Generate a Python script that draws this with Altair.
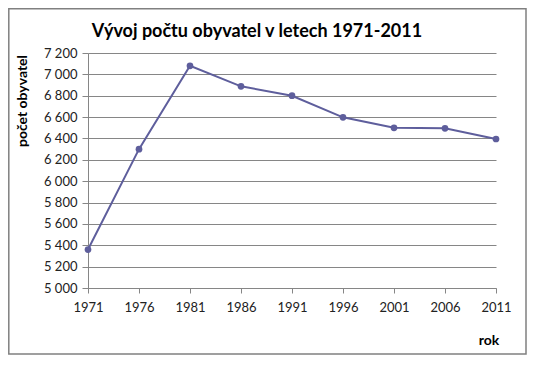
import altair as alt
import pandas as pd

years = [1971, 1976, 1981, 1986, 1991, 1996, 2001, 2006, 2011]
population = [5360, 6300, 7080, 6888, 6800, 6598, 6500, 6495, 6395]
y_ticks = [5000, 5200, 5400, 5600, 5800, 6000, 6200, 6400, 6600, 6800, 7000, 7200]

title_text = "Vývoj počtu obyvatel v letech 1971-2011"
y_title = "počet obyvatel"
x_title = "rok"

df = pd.DataFrame({"rok": years, "obyvatel": population})

FONT = "Lato"
LINE_COLOR = "#5E5E9C"
GRID = "#868686"

x_enc = alt.X(
    "rok:Q",
    scale=alt.Scale(domain=[1971, 2011], nice=False, zero=False),
    axis=alt.Axis(
        values=years, format="d", title=None, grid=False,
        tickSize=5, tickColor=GRID, domainColor=GRID,
        labelFont=FONT, labelFontSize=13, labelColor="#222222",
        labelPadding=8, labelFlush=False, labelOverlap=False,
    ),
)
y_enc = alt.Y(
    "obyvatel:Q",
    scale=alt.Scale(domain=[5000, 7200], nice=False, zero=False),
    axis=alt.Axis(
        values=y_ticks, title=None, grid=True, gridColor=GRID,
        tickSize=6, tickColor=GRID, domainColor=GRID,
        labelFont=FONT, labelFontSize=13, labelColor="#222222",
        labelPadding=5, labelOverlap=False, labelFlush=False,
        labelExpr="replace(format(datum.value, ','), ',', ' ')",
    ),
)

base = alt.Chart(df)

line = base.mark_line(color=LINE_COLOR, strokeWidth=2).encode(x=x_enc, y=y_enc)
points = base.mark_point(filled=True, color=LINE_COLOR, size=45, opacity=1).encode(x=x_enc, y=y_enc)

one = alt.Data(values=[{"a": 1}])

border = alt.Chart(one).mark_rect(fillOpacity=0, stroke="#808080", strokeWidth=1.5).encode(
    x=alt.value(-79.2), x2=alt.value(438), y=alt.value(-44.2), y2=alt.value(301)
)

title = alt.Chart(one).mark_text(
    text=title_text, font=FONT, fontSize=18, fontWeight="bold", color="#000000",
    align="center", baseline="alphabetic",
).encode(x=alt.value(169), y=alt.value(-16))

ytitle = alt.Chart(one).mark_text(
    text=y_title, font=FONT, fontSize=14, fontWeight="bold", color="#000000",
    align="center", baseline="middle", angle=270,
).encode(x=alt.value(-65.5), y=alt.value(48))

xtitle = alt.Chart(one).mark_text(
    text=x_title, font=FONT, fontSize=14, fontWeight="bold", color="#000000",
    align="center", baseline="middle",
).encode(x=alt.value(401), y=alt.value(288))

chart = alt.layer(line, points, border, title, ytitle, xtitle).properties(
    width=408, height=235,
    padding={"left": 80, "top": 45, "right": 34, "bottom": 69},
    autosize=alt.AutoSizeParams(type="none"),
    background="white",
).configure_view(stroke=None)

chart.save("out.html", embed_options={"renderer": "svg", "actions": False})
